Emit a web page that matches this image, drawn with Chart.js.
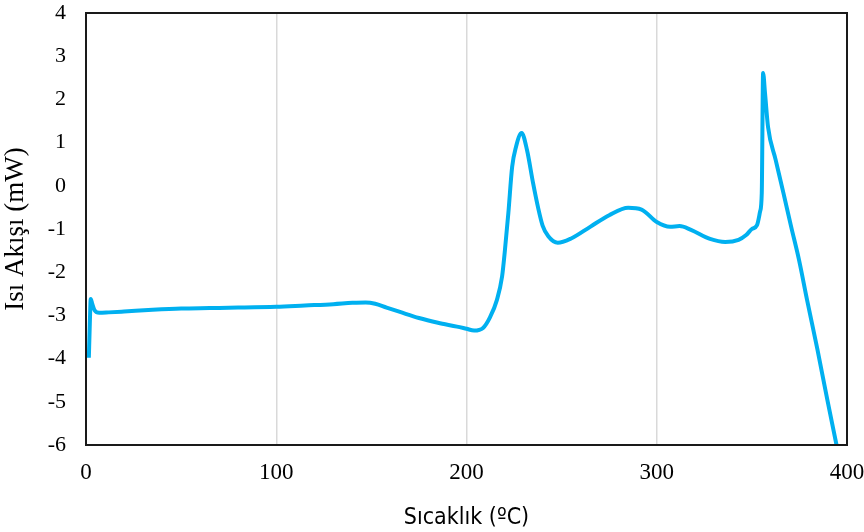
<!DOCTYPE html>
<html>
<head>
<meta charset="utf-8">
<script src="https://cdn.jsdelivr.net/npm/chart.js@4"></script>
<style>
  html, body { margin: 0; padding: 0; background: #ffffff; }
  #wrap { width: 864px; height: 532px; }
</style>
</head>
<body>
<div id="wrap"><canvas id="c" width="864" height="532"></canvas></div>
<script>
// Temperature (°C)
const temperature = [
  1.5, 2.0, 2.5, 3.2, 4.5, 7, 12, 20, 35, 50, 65, 80, 100, 115, 130, 140, 147,
  152, 158, 165, 175, 185, 195, 200, 204, 208.7, 212.4, 216, 218.7, 220.2, 222,
  224, 226, 229, 231.8, 235, 237.6, 240, 243, 248, 255, 265, 275, 285, 292,
  300, 307, 312, 318, 328, 336, 343, 347, 350, 352.7, 354.3, 355.2, 355.9,
  356.9, 358.5, 362.5, 366.6, 370.6, 374.8, 379.0, 384.5, 389.7, 394.5
];
// Heat flow (mW)
const heatFlow = [
  -3.98, -3.2, -2.62, -2.72, -2.88, -2.94, -2.93, -2.91, -2.87, -2.84, -2.83,
  -2.82, -2.80, -2.77, -2.74, -2.71, -2.70, -2.73, -2.82, -2.92, -3.06, -3.17,
  -3.26, -3.31, -3.35, -3.29, -3.04, -2.64, -2.1, -1.49, -0.63, 0.44, 0.9,
  1.22, 0.83, 0.06, -0.5, -0.92, -1.17, -1.32, -1.22, -0.95, -0.68, -0.51,
  -0.55, -0.84, -0.95, -0.93, -1.02, -1.23, -1.30, -1.25, -1.14, -1.0, -0.91,
  -0.6, -0.17, 2.61, 2.15, 1.36, 0.60, -0.17, -0.94, -1.72, -2.64, -3.80,
  -4.96, -6.0
];
const xTicks = [0, 100, 200, 300, 400];
const yTicks = [4, 3, 2, 1, 0, -1, -2, -3, -4, -5, -6];

const points = temperature.map((t, i) => ({ x: t, y: heatFlow[i] }));

const frame = {
  id: 'frame',
  afterDraw(chart) {
    const a = chart.chartArea, ctx = chart.ctx;
    ctx.save();
    ctx.strokeStyle = '#1a1a1a';
    ctx.lineWidth = 2;
    ctx.strokeRect(a.left, a.top, a.right - a.left, a.bottom - a.top);
    ctx.restore();
  }
};

new Chart(document.getElementById('c'), {
  type: 'line',
  data: {
    datasets: [{
      data: points,
      borderColor: '#00b0f0',
      borderWidth: 4,
      pointRadius: 0,
      cubicInterpolationMode: 'monotone',
      fill: false,
      clip: 4
    }]
  },
  options: {
    responsive: false,
    animation: false,
    events: [],
    layout: { padding: { left: 0, top: 13, right: 17, bottom: 0 } },
    plugins: { legend: { display: false }, tooltip: { enabled: false } },
    scales: {
      x: {
        type: 'linear',
        min: 0, max: 400,
        afterBuildTicks(scale) { scale.ticks = xTicks.map(v => ({ value: v })); },
        afterFit(scale) { scale.height = 87; scale.paddingLeft = 0; scale.paddingRight = 0; },
        grid: {
          color: (ctx) => (ctx.tick && (ctx.tick.value === 0 || ctx.tick.value === 400)) ? 'rgba(0,0,0,0)' : '#d9d9d9',
          lineWidth: 1.5,
          drawTicks: false
        },
        border: { display: false },
        ticks: {
          padding: 14,
          color: '#000',
          font: { family: '"Liberation Serif", "Times New Roman", serif', size: 23 },
          maxRotation: 0
        },
        title: {
          display: true,
          text: 'Sıcaklık (ºC)',
          color: '#000',
          font: { family: '"Liberation Sans Narrow", "DejaVu Sans Condensed", "Liberation Sans", sans-serif', size: 23 },
          padding: { top: 10, bottom: 0 }
        }
      },
      y: {
        type: 'linear',
        min: -6, max: 4,
        afterBuildTicks(scale) { scale.ticks = yTicks.map(v => ({ value: v })); },
        afterFit(scale) { scale.width = 86; scale.paddingTop = 0; scale.paddingBottom = 0; },
        grid: { display: false, drawTicks: false },
        border: { display: false },
        ticks: {
          padding: 20,
          color: '#000',
          font: { family: '"Liberation Serif", "Times New Roman", serif', size: 22 }
        },
        title: {
          display: true,
          text: 'Isı Akışı (mW)',
          color: '#000',
          font: { family: '"Liberation Serif", "Times New Roman", serif', size: 27 },
          padding: { top: 0, bottom: 0 }
        }
      }
    }
  },
  plugins: [frame]
});
</script>
</body>
</html>
